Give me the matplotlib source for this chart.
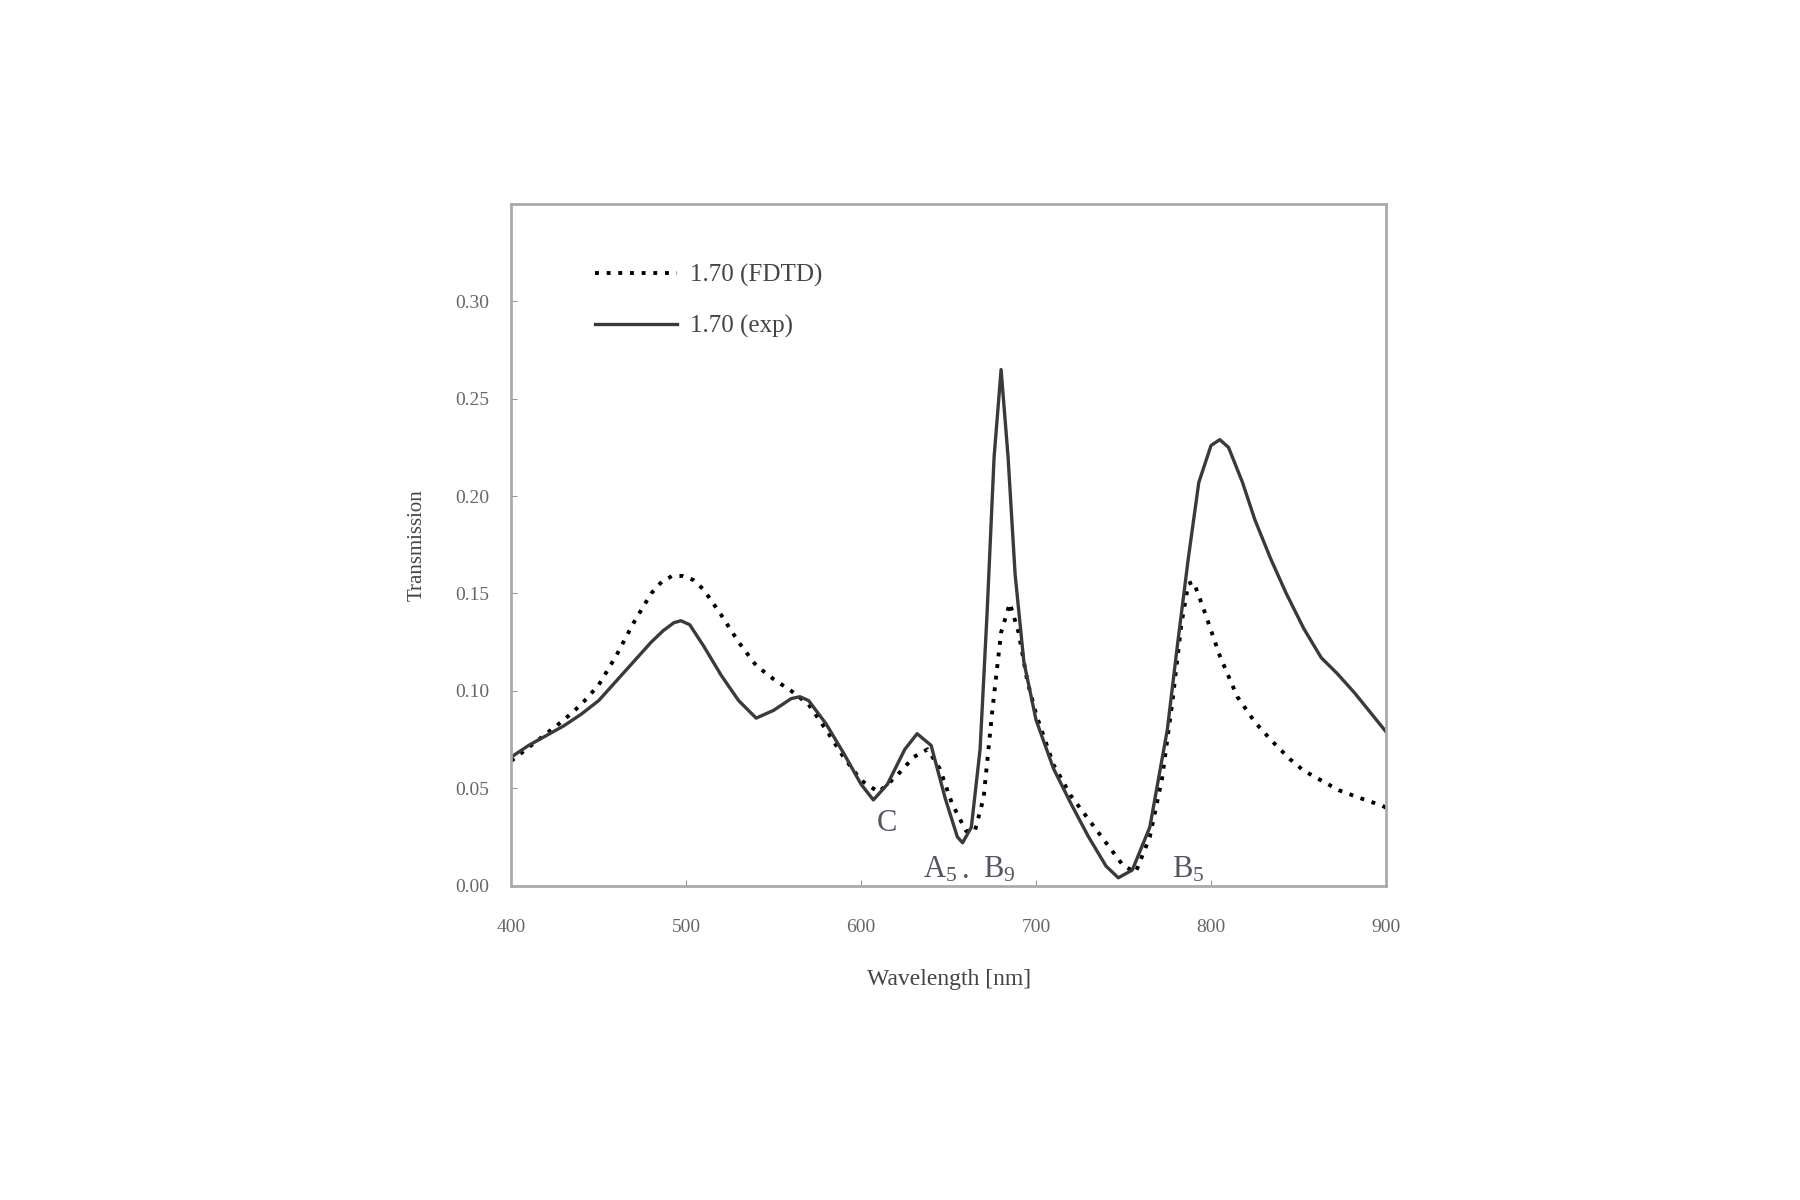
import numpy as np
import matplotlib
matplotlib.use("Agg")
import matplotlib.pyplot as plt

# values
wl_exp = [400, 410, 420, 430, 440, 450, 460, 470, 480, 487, 493, 497, 502, 510, 520,
          530, 540, 550, 560, 565, 570, 580, 590, 600, 607, 615, 625, 632, 640, 648,
          655, 658, 663, 668, 672, 676, 680, 684, 688, 693, 700, 710, 720, 730, 740,
          747, 755, 765, 775, 781, 787, 793, 800, 805, 810, 818, 825, 834, 843, 853,
          863, 872, 882, 891, 900]
t_exp = [0.066, 0.072, 0.077, 0.082, 0.088, 0.095, 0.105, 0.115, 0.125, 0.131, 0.135,
         0.136, 0.134, 0.123, 0.108, 0.095, 0.086, 0.090, 0.096, 0.097, 0.095, 0.083,
         0.068, 0.052, 0.044, 0.052, 0.070, 0.078, 0.072, 0.045, 0.025, 0.022, 0.030,
         0.070, 0.140, 0.220, 0.265, 0.220, 0.160, 0.115, 0.085, 0.060, 0.042, 0.025,
         0.010, 0.004, 0.008, 0.030, 0.080, 0.125, 0.168, 0.207, 0.226, 0.229, 0.225,
         0.207, 0.188, 0.168, 0.150, 0.132, 0.117, 0.109, 0.099, 0.089, 0.079]

wl_fdtd = [400, 410, 420, 430, 440, 450, 460, 470, 480, 486, 492, 498, 504, 510, 520,
           530, 540, 550, 560, 570, 580, 590, 600, 610, 620, 630, 638, 645, 652, 660,
           665, 670, 675, 680, 685, 690, 695, 700, 710, 720, 730, 740, 750, 757, 765,
           772, 778, 783, 787, 790, 795, 805, 815, 825, 834, 845, 853, 863, 873, 885,
           898, 900]
t_fdtd = [0.064, 0.071, 0.078, 0.085, 0.093, 0.103, 0.118, 0.135, 0.150, 0.156, 0.159,
          0.159, 0.157, 0.152, 0.139, 0.125, 0.113, 0.106, 0.100, 0.093, 0.080, 0.066,
          0.054, 0.048, 0.056, 0.066, 0.070, 0.060, 0.042, 0.028, 0.028, 0.045, 0.090,
          0.130, 0.145, 0.130, 0.105, 0.088, 0.062, 0.046, 0.034, 0.022, 0.010, 0.007,
          0.025, 0.055, 0.095, 0.134, 0.155, 0.156, 0.144, 0.118, 0.097, 0.084, 0.075,
          0.065, 0.059, 0.054, 0.049, 0.045, 0.041, 0.040]

labels = ["1.70 (FDTD)", "1.70 (exp)"]
xticks = [400, 500, 600, 700, 800, 900]
yticks = [0.00, 0.05, 0.10, 0.15, 0.20, 0.25, 0.30]

plt.rcParams["font.family"] = ["Liberation Serif", "DejaVu Serif"]
plt.rcParams["mathtext.fontset"] = "custom"
plt.rcParams["mathtext.rm"] = "Liberation Serif"
plt.rcParams["mathtext.it"] = "Liberation Serif"

fig = plt.figure(figsize=(18, 12), dpi=100)
ax = fig.add_axes([0.284, 0.262, 0.486, 0.568])

ax.plot(wl_fdtd, t_fdtd, color="black", linestyle=(0, (1, 2.0)), linewidth=2.8,
        label=labels[0])
ax.plot(wl_exp, t_exp, color="#3a3a3a", linewidth=2.4, label=labels[1])

ax.set_xlim(400, 900)
ax.set_ylim(0, 0.35)
ax.set_xticks(xticks)
ax.set_yticks(yticks)
ax.set_yticklabels([f"{v:.2f}" for v in yticks])
ax.tick_params(direction="in", length=4, color="#999999", labelcolor="#666666",
               labelsize=14)
ax.tick_params(axis="x", pad=24)
ax.tick_params(axis="y", pad=16)
for s in ax.spines.values():
    s.set_color("#aaaaaa")
    s.set_linewidth(2)

ax.set_xlabel("Wavelength [nm]", fontsize=17, color="#444444", labelpad=24)
ax.set_ylabel("Transmission", fontsize=15, color="#444444", labelpad=20)

ax.text(615, 0.028, "C", fontsize=22, color="#555560", ha="center")
ax.text(645, 0.004, r"A$_5$", fontsize=22, color="#555560", ha="center")
ax.text(660, 0.004, ".", fontsize=22, color="#555560", ha="center")
ax.text(679, 0.004, r"B$_9$", fontsize=22, color="#555560", ha="center")
ax.text(787, 0.004, r"B$_5$", fontsize=22, color="#555560", ha="center")

leg = ax.legend(loc="upper left", bbox_to_anchor=(0.07, 0.945), frameon=False,
                fontsize=18, handlelength=3.3, handletextpad=0.5, labelspacing=1.1)
for t in leg.get_texts():
    t.set_color("#444444")

fig.savefig("out.png", dpi=100, facecolor="white")
